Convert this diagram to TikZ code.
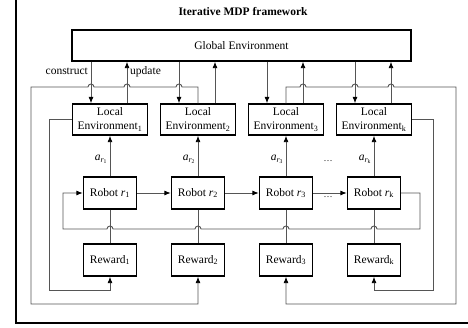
\documentclass[tikz,border=0pt]{standalone}
\usepackage{fontspec}
\setmainfont{Liberation Serif}
\usetikzlibrary{arrows.meta,calc}
\definecolor{linegray}{RGB}{85,85,85}
\begin{document}
\begin{tikzpicture}[x=1pt,y=-1pt,
  txt/.style={font=\fontsize{11.5}{14}\selectfont,inner sep=1pt},
  box/.style={draw=black,line width=1.3pt,inner sep=0pt,align=center,font=\fontsize{11.5}{14}\selectfont},
  lebox/.style={box,minimum width=75pt,minimum height=31pt},
  smallbox/.style={box,minimum width=53pt,minimum height=32pt},
  conn/.style={draw=linegray,line width=0.9pt},
  arr/.style={-{Latex[color=black,length=6.5pt,width=5pt]}}
]
\useasboundingbox (0,0) rectangle (468,327);
\draw[line width=1.5pt] (16,0) -- (16,323) -- (468,323);

\node[txt,font=\fontsize{11.5}{14}\selectfont\bfseries] (title) at (243,12) {Iterative MDP framework};
\node[box,minimum width=339pt,minimum height=31pt] (glob) at (241.5,45.5) {Global Environment};

\foreach \i/\x/\s in {1/110/1,2/198/2,3/286/3,k/374/k}{
  \node[lebox] (le\i) at (\x,119.5) {Local\\Environment\textsubscript{\ifx k\s\textit{k}\else\s\fi}};
  \node[smallbox] (rob\i) at (\x,193) {Robot \textit{r}\textsubscript{\ifx k\s\textit{k}\else\s\fi}};
  \node[smallbox] (rw\i) at (\x,260) {Reward\textsubscript{\ifx k\s\textit{k}\else\s\fi}};
  \coordinate (dn\i) at ($(le\i.north)+(-19,0)$);
  \coordinate (up\i) at ($(le\i.north)+(17,0)$);
  \draw[conn,arr] (glob.south -| dn\i) -- (dn\i);
  \draw[conn,arr] (up\i) -- (glob.south -| up\i);
  \draw[conn,arr] (rob\i) -- node[txt,left,xshift=-1pt,yshift=-3pt]{\textit{a}\textsubscript{\textit{r}\textsubscript{\ifx k\s\textit{k}\else\s\fi}}} (le\i);
  \draw[conn] (rob\i) -- (rw\i);
}
\node[txt,anchor=east] (lab1) at ($(dn1)+(-2,-32)$) {construct};
\node[txt,anchor=west] (lab2) at ($(up1)+(2,-32)$) {update};
\node[txt,font=\fontsize{9}{10}\selectfont] (dots1) at (328,161) {\ldots};

% robot chain
\draw[conn,arr] (rob1) -- (rob2);
\draw[conn,arr] (rob2) -- (rob3);
\draw[conn,arr] (rob3) -- (robk);
\node[txt,font=\fontsize{9}{10}\selectfont] (dots2) at (328,197) {\ldots};

% robot feedback loop with hops
\draw[conn,arr] (robk.east) -- (420,193) -- (420,229)
  -- (377,229) arc[start angle=0,end angle=-180,radius=3]
  -- (289,229) arc[start angle=0,end angle=-180,radius=3]
  -- (201,229) arc[start angle=0,end angle=-180,radius=3]
  -- (113,229) arc[start angle=0,end angle=-180,radius=3]
  -- (63,229) -- (63,193) -- (rob1.west);

% LE1 -> Reward1
\draw[conn,arr] (le1.west) -- (49,119.5) -- (49,290) -- (rw1.south |- 0,290) -- (rw1.south);
% LEk -> Rewardk
\draw[conn,arr] (lek.east) -- (433,119.5) -- (433,290) -- (rwk.south |- 0,290) -- (rwk.south);

% LE2 -> Reward2 (left loop)
\draw[conn,arr] (le2.north) -- (198,87)
  -- (182,87) arc[start angle=0,end angle=-180,radius=3]
  -- (130,87) arc[start angle=0,end angle=-180,radius=3]
  -- (94,87) arc[start angle=0,end angle=-180,radius=3]
  -- (31,87) -- (31,304) -- (rw2.south |- 0,304) -- (rw2.south);
% LE3 -> Reward3 (right loop)
\draw[conn,arr] (le3.north) -- (286,87)
  -- (300,87) arc[start angle=180,end angle=360,radius=3]
  -- (352,87) arc[start angle=180,end angle=360,radius=3]
  -- (388,87) arc[start angle=180,end angle=360,radius=3]
  -- (456,87) -- (456,304) -- (rw3.south |- 0,304) -- (rw3.south);
\end{tikzpicture}
\end{document}
